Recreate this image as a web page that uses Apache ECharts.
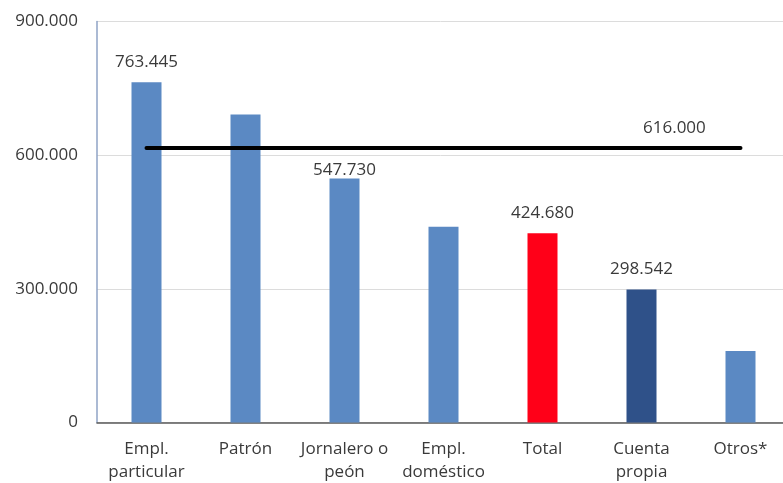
<!DOCTYPE html>
<html>
<head>
<meta charset="utf-8">
<script src="https://cdn.jsdelivr.net/npm/echarts@6/dist/echarts.min.js"></script>
<style>
  html, body { margin: 0; padding: 0; background: #ffffff; }
  #chart { width: 783px; height: 483px; }
</style>
</head>
<body>
<div id="chart"></div>
<script>
// Categories (position in occupation) and their values
const categories = ['Empl.\nparticular', 'Patrón', 'Jornalero o\npeón', 'Empl.\ndoméstico', 'Total', 'Cuenta\npropia', 'Otros*'];
const values = [763445, 691000, 547730, 439500, 424680, 298542, 160500];
// Reference level drawn as a horizontal line across all categories
const referenceLevel = 616000;
// Categories whose value is printed above the bar
const labelledCategories = ['Empl.\nparticular', 'Jornalero o\npeón', 'Total', 'Cuenta\npropia'];
// Y axis range and step
const yMin = 0, yMax = 900000, yStep = 300000;

const FONT = 'Open Sans';
const FS = 17;
const TEXT = '#3A3A3A';
const colorFor = {
  'Total': '#FF0018',
  'Cuenta\npropia': '#2F5189'
};
const baseColor = '#5B89C3';

function fmt(v) {
  return String(Math.round(v)).replace(/\B(?=(\d{3})+(?!\d))/g, '.');
}

const barData = values.map((v, i) => {
  const cat = categories[i];
  const item = { value: v, itemStyle: { color: colorFor[cat] || baseColor } };
  if (labelledCategories.includes(cat)) {
    item.label = {
      show: true,
      position: 'top',
      distance: cat === 'Jornalero o\npeón' ? 0 : 12,
      formatter: p => fmt(p.value),
      fontFamily: FONT, fontSize: FS, color: TEXT
    };
  }
  return item;
});

// The level's value is printed once, above the right end of the line
const lastIdx = categories.length - 1;
const lineData = categories.map((c, i) => {
  const item = { value: referenceLevel };
  if (i === lastIdx) {
    item.label = {
      show: true,
      position: [-97, -28],
      formatter: p => fmt(p.value),
      fontFamily: FONT, fontSize: FS, color: TEXT
    };
  }
  return item;
});

const chart = echarts.init(document.getElementById('chart'), null, { renderer: 'canvas' });
chart.setOption({
  animation: false,
  backgroundColor: '#ffffff',
  grid: { left: 97, top: 21.5, width: 693, height: 401, outerBoundsMode: 'none', containLabel: false },
  xAxis: {
    type: 'category',
    data: categories,
    boundaryGap: true,
    axisLine: { show: true, lineStyle: { color: '#595959', width: 1.5 } },
    axisTick: { show: false },
    axisLabel: {
      interval: 0, margin: 15, lineHeight: 23,
      fontFamily: FONT, fontSize: FS, color: TEXT
    }
  },
  yAxis: {
    type: 'value',
    min: yMin, max: yMax, interval: yStep,
    axisLine: { show: true, lineStyle: { color: '#8FA3C6', width: 1.5 } },
    axisTick: { show: false },
    splitLine: { show: true, lineStyle: { color: '#DCDCDC', width: 1 } },
    axisLabel: {
      margin: 19, formatter: v => fmt(v),
      fontFamily: FONT, fontSize: FS, color: TEXT
    }
  },
  series: [
    {
      type: 'bar',
      data: barData,
      barWidth: 30,
      z: 2
    },
    {
      type: 'line',
      data: lineData,
      symbol: 'circle',
      symbolSize: 1,
      showSymbol: true,
      itemStyle: { color: '#000000' },
      lineStyle: { color: '#000000', width: 4, cap: 'round' },
      labelLayout: { hideOverlap: false },
      z: 5
    }
  ]
});
</script>
</body>
</html>
